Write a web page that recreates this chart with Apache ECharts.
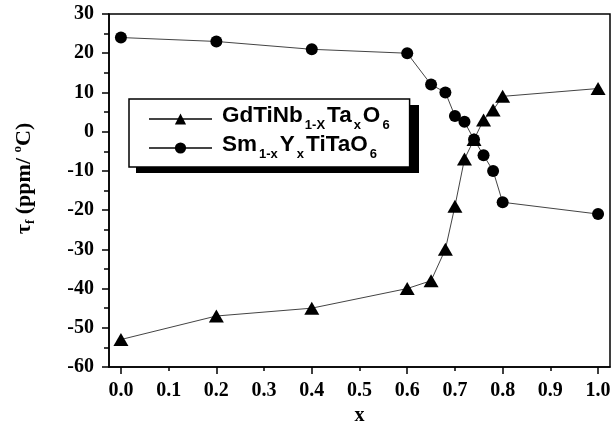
<!DOCTYPE html>
<html>
<head>
<meta charset="utf-8">
<script src="https://cdn.jsdelivr.net/npm/echarts@6/dist/echarts.min.js"></script>
<style>
  html, body { margin: 0; padding: 0; background: #fff; }
  #chart { width: 612px; height: 431px; }
</style>
</head>
<body>
<div id="chart"></div>
<script>
// composition x
var xGd = [0, 0.2, 0.4, 0.6, 0.65, 0.68, 0.7, 0.72, 0.74, 0.76, 0.78, 0.8, 1.0];
var tauGd = [-53, -47, -45, -40, -38, -30, -19, -7, -2, 3, 5.5, 9, 11];
var xSm = [0, 0.2, 0.4, 0.6, 0.65, 0.68, 0.7, 0.72, 0.74, 0.76, 0.78, 0.8, 1.0];
var tauSm = [24, 23, 21, 20, 12, 10, 4, 2.5, -2, -6, -10, -18, -21];
var xLabels = [0, 0.1, 0.2, 0.3, 0.4, 0.5, 0.6, 0.7, 0.8, 0.9, 1.0];
var xMajor = [0, 0.2, 0.4, 0.6, 0.8, 1.0];
var xMinor = [0.1, 0.3, 0.5, 0.7, 0.9];

function pairs(xs, ys) {
    return xs.map(function (v, i) { return [v, ys[i]]; });
}

var myChart = echarts.init(document.getElementById('chart'));

var tickFont = {
    fontFamily: 'Liberation Serif',
    fontWeight: 'bold',
    fontSize: 20,
    color: '#000'
};
var sans = 'Liberation Sans';

var option = {
    backgroundColor: '#fff',
    animation: false,
    grid: {
        left: 109, right: 2, top: 14, bottom: 64,
        outerBoundsMode: 'none',
        show: true,
        borderColor: '#000',
        borderWidth: 1.5
    },
    // legend drop shadow
    graphic: [{
        type: 'rect',
        left: 136, top: 105,
        shape: { width: 283, height: 68 },
        style: { fill: '#000' },
        z: 1
    }],
    legend: {
        orient: 'vertical',
        left: 129,
        top: 99,
        padding: [5, 20, 6, 19],
        itemGap: 1,
        itemWidth: 63,
        itemHeight: 14,
        backgroundColor: '#fff',
        borderColor: '#000',
        borderWidth: 1.5,
        z: 5,
        formatter: function (name) {
            if (name === 'GdTiNb') {
                return '{f|GdTiNb}{s|1-X}{n|Ta}{s|x}{n|O}{s|6}';
            }
            return '{f|Sm}{s|1-x}{n|Y}{s|x}{n|TiTaO}{s|6}';
        },
        textStyle: {
            rich: {
                f: {
                    fontFamily: sans, fontWeight: 'bold', fontSize: 22.5,
                    color: '#000', padding: [0, 0, 7, 5]
                },
                n: {
                    fontFamily: sans, fontWeight: 'bold', fontSize: 22.5,
                    color: '#000', padding: [0, 0, 7, 0]
                },
                s: {
                    fontFamily: sans, fontWeight: 'bold', fontSize: 13,
                    color: '#000', padding: [13, 2, 0, 2]
                }
            }
        },
        data: ['GdTiNb', 'SmY']
    },
    xAxis: [{
        type: 'value',
        position: 'bottom',
        min: -0.025,
        max: 1.025,
        name: 'x',
        nameLocation: 'middle',
        nameGap: 38,
        nameTextStyle: tickFont,
        axisLine: { onZero: false, lineStyle: { color: '#000', width: 1.5 } },
        axisTick: {
            customValues: xMajor,
            length: 7,
            lineStyle: { color: '#000', width: 1.5 }
        },
        axisLabel: Object.assign({
            customValues: xLabels,
            margin: 14,
            formatter: function (v) { return v.toFixed(1); }
        }, tickFont),
        splitLine: { show: false }
    }, {
        type: 'value',
        position: 'bottom',
        min: -0.025,
        max: 1.025,
        axisLine: { show: false, onZero: false },
        axisTick: {
            customValues: xMinor,
            length: 4,
            lineStyle: { color: '#000', width: 1.5 }
        },
        axisLabel: { show: false },
        splitLine: { show: false }
    }],
    yAxis: {
        type: 'value',
        min: -60,
        max: 30,
        interval: 10,
        name: '{t|τ}{f|f}{t| (ppm/ }{o|o}{t|C)}',
        nameLocation: 'middle',
        nameGap: 72,
        nameTextStyle: {
            padding: [0, 0, 0, 24],
            rich: {
                t: {
                    fontFamily: 'Liberation Serif', fontWeight: 'bold',
                    fontSize: 22, color: '#000'
                },
                f: {
                    fontFamily: 'Liberation Serif', fontWeight: 'bold',
                    fontSize: 13, color: '#000', padding: [13, 0, 0, 0]
                },
                o: {
                    fontFamily: 'Liberation Serif', fontWeight: 'bold',
                    fontSize: 13, color: '#000', padding: [0, 0, 13, 0]
                }
            }
        },
        axisLine: { onZero: false, lineStyle: { color: '#000', width: 1.5 } },
        axisTick: {
            length: 7,
            lineStyle: { color: '#000', width: 1.5 }
        },
        minorTick: {
            show: true,
            splitNumber: 2,
            length: 5,
            lineStyle: { color: '#000', width: 1.5 }
        },
        axisLabel: Object.assign({ margin: 15 }, tickFont),
        splitLine: { show: false }
    },
    series: [
        {
            name: 'GdTiNb',
            type: 'line',
            data: pairs(xGd, tauGd),
            symbol: 'triangle',
            symbolSize: [15, 13],
            itemStyle: { color: '#000' },
            lineStyle: { color: '#444', width: 1 }
        },
        {
            name: 'SmY',
            type: 'line',
            data: pairs(xSm, tauSm),
            symbol: 'circle',
            symbolSize: 12,
            itemStyle: { color: '#000' },
            lineStyle: { color: '#444', width: 1 }
        }
    ]
};

myChart.setOption(option);
</script>
</body>
</html>
